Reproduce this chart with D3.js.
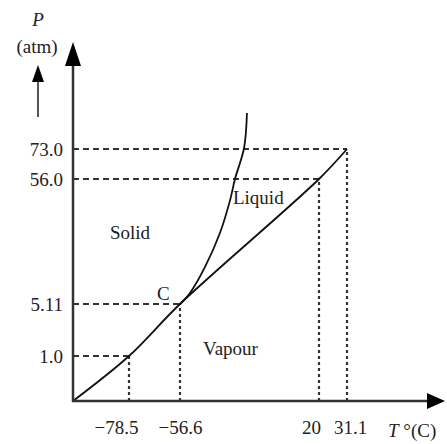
<!DOCTYPE html>
<html>
<head>
<meta charset="utf-8">
<script src="https://cdn.jsdelivr.net/npm/d3@7"></script>
<style>
    html, body { margin: 0; padding: 0; background: #fff; }
    svg text { font-family: "Liberation Serif", "Times New Roman", serif; fill: #222; }
</style>
</head>
<body>
<div id="chart"></div>
<script>
// tick values and their labels
const tempTicks = [-78.5, -56.6, 20, 31.1];
const tempLabels = ['\u221278.5', '\u221256.6', '20', '31.1'];
const presTicks = [1.0, 5.11, 56.0, 73.0];
const presLabels = ['1.0', '5.11', '56.0', '73.0'];

// sublimation / vaporisation curve (T in C, P in atm)
const vapourT = [-100, -78.5, -56.6, 20, 31.1];
const vapourP = [0, 1.0, 5.11, 56.0, 73.0];

// melting curve from the triple point
const fusionT = [-56.6, -51.1, -42.8, -34.6, -29.0, -26.3, -21.3, -19.7];
const fusionP = [5.11, 9.6, 20.2, 34.0, 47.4, 56.0, 73.6, 95];

const regions = [
    { name: 'Solid', t: -85.8, p: 34.4 },
    { name: 'Liquid', t: -27.4, p: 48.7 },
    { name: 'Vapour', t: -43.9, p: 1.63 },
    { name: 'C', t: -66.5, p: 9.6 }
];

const width = 447, height = 444;
const x0 = 73, y0 = 401;

const svg = d3.select('#chart').append('svg')
    .attr('width', width)
    .attr('height', height);

// the diagram is schematic, so both scales are piecewise
const x = d3.scaleLinear()
    .domain([-100, -78.5, -56.6, 20, 31.1])
    .range([x0, 129, 180, 319, 347]);
const y = d3.scaleLinear()
    .domain([0, 1.0, 5.11, 56.0, 73.0, 95])
    .range([y0, 356, 304, 179, 149, 113]);

// guide lines
const guides = svg.append('g').attr('stroke', '#333').attr('fill', 'none');
presTicks.forEach((p, i) => {
    guides.append('line')
        .attr('x1', x0).attr('x2', x(vapourT[i + 1]))
        .attr('y1', y(p)).attr('y2', y(p))
        .attr('stroke-width', 1.8)
        .attr('stroke-dasharray', '6,4');
});
tempTicks.forEach((t, i) => {
    guides.append('line')
        .attr('x1', x(t)).attr('x2', x(t))
        .attr('y1', y0).attr('y2', y(vapourP[i + 1]))
        .attr('stroke-width', 2.2)
        .attr('stroke-dasharray', '3,3');
});

// curves
const line = d3.line().curve(d3.curveCatmullRom);
svg.append('path')
    .datum(vapourT.map((t, i) => [x(t), y(vapourP[i])]))
    .attr('d', line)
    .attr('fill', 'none').attr('stroke', '#111').attr('stroke-width', 1.8);
svg.append('path')
    .datum(fusionT.map((t, i) => [x(t), y(fusionP[i])]))
    .attr('d', line)
    .attr('fill', 'none').attr('stroke', '#111').attr('stroke-width', 1.8);

// axes
svg.append('line').attr('x1', x0).attr('x2', x0).attr('y1', y0 + 1).attr('y2', 64)
    .attr('stroke', '#333').attr('stroke-width', 2.5);
svg.append('path').attr('d', `M${x0},42 L${x0 - 8},66 L${x0 + 8},66 Z`).attr('fill', '#000');
svg.append('line').attr('x1', x0 - 1).attr('x2', 430).attr('y1', y0).attr('y2', y0)
    .attr('stroke', '#333').attr('stroke-width', 2.5);
svg.append('path').attr('d', `M445,${y0} L427,${y0 - 8} L427,${y0 + 8} Z`).attr('fill', '#000');

// tick labels via d3 axes
const yAxis = svg.append('g')
    .attr('transform', `translate(${x0},0)`)
    .call(d3.axisLeft(y).tickValues(presTicks).tickSize(0).tickPadding(10)
        .tickFormat((d, i) => presLabels[i]));
const nudge = { '-78.5': -13, '20': -8, '31.1': 3 };
const xAxis = svg.append('g')
    .attr('transform', `translate(0,${y0})`)
    .call(d3.axisBottom(x).tickValues(tempTicks).tickSize(0).tickPadding(20)
        .tickFormat((d, i) => tempLabels[i]));
[yAxis, xAxis].forEach(a => {
    a.select('.domain').remove();
    a.selectAll('text').attr('font-family', null).attr('fill', '#222').style('font-size', '19px');
});
xAxis.selectAll('text').attr('dx', d => nudge[String(d)] || 0);

// region labels
svg.append('g').selectAll('text')
    .data(regions)
    .enter().append('text')
    .attr('x', d => x(d.t))
    .attr('y', d => y(d.p))
    .attr('dy', '0.35em')
    .style('font-size', '19px')
    .text(d => d.name);

// axis titles
svg.append('text').attr('x', 38).attr('y', 26).attr('text-anchor', 'middle')
    .style('font-size', '19px').style('font-style', 'italic').text('P');
svg.append('text').attr('x', 37).attr('y', 53).attr('text-anchor', 'middle')
    .style('font-size', '19px').text('(atm)');
svg.append('line').attr('x1', 38).attr('x2', 38).attr('y1', 117).attr('y2', 78)
    .attr('stroke', '#555').attr('stroke-width', 2);
svg.append('path').attr('d', 'M38,65 L32,82 L44,82 Z').attr('fill', '#000');
svg.append('text').attr('x', 388).attr('y', 437)
    .style('font-size', '19px')
    .html('<tspan font-style="italic">T</tspan> \u00b0(C)');
</script>
</body>
</html>
